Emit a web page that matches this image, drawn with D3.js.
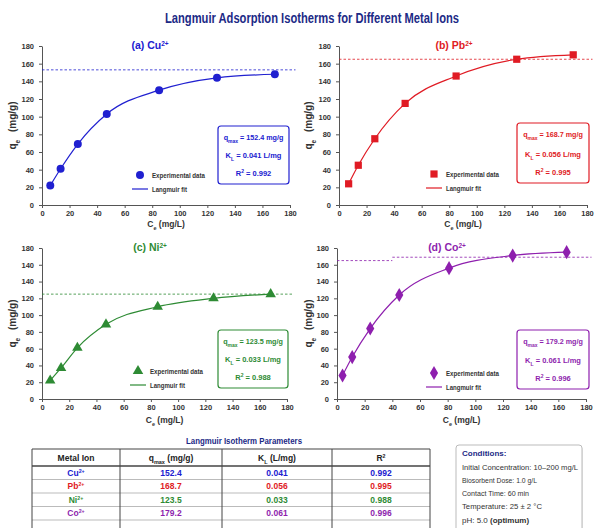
<!DOCTYPE html>
<html>
<head>
<meta charset="utf-8">
<script src="https://cdn.jsdelivr.net/npm/d3@7"></script>
<style>
  body { margin: 0; background: #fff; }
  svg text { font-family: "Liberation Sans Narrow", "Arial Narrow", "Liberation Sans", Arial, sans-serif; }
</style>
</head>
<body>
<svg id="chart" width="594" height="528"></svg>
<script>
// ---- data ----
const metals = ["Cu", "Pb", "Ni", "Co"];
const panelLetters = ["(a)", "(b)", "(c)", "(d)"];

const ceCu = [6, 13.5, 26, 47, 85, 127, 169];
const qeCu = [22, 41, 69, 103, 130, 144, 148];
const cePb = [7, 14, 26, 48, 85, 129, 170];
const qePb = [24, 45, 75, 115, 146, 165, 170];
const ceNi = [6, 14, 26, 47, 85, 126, 168];
const qeNi = [22, 37, 61, 89, 110, 120, 125];
const ceCo = [4, 11, 24, 45, 81, 127, 166];
const qeCo = [28, 50, 84, 124, 156, 171, 175];

const qmaxValues = ["152.4", "168.7", "123.5", "179.2"];
const klValues = ["0.041", "0.056", "0.033", "0.061"];
const r2Values = ["0.992", "0.995", "0.988", "0.996"];

// dashed reference lines: [fromCe, toCe, qe]
const dashCu = [[0, 184, 153]];
const dashPb = [[0, 184, 165]];
const dashNi = [[0, 184, 125]];
const dashCo = [[0, 40, 165], [40, 184, 169]];

const xTicks = [0, 20, 40, 60, 80, 100, 120, 140, 160, 180];
const yTicks = [0, 20, 40, 60, 80, 100, 120, 140, 160, 180];
const yTickLabelsNi = ["0", "20", "40", "60", "80", "100", "120", "140", "140", "180"];

const conditions = [
  "Initial Concentration: 10\u2013200 mg/L",
  "Biosorbent Dose: 1.0 g/L",
  "Contact Time: 60 min",
  "Temperature: 25 \u00b1 2 \u00b0C"
];

// ---- styling / layout ----
const colors = ["#2020d0", "#e01b24", "#2e8b34", "#8e1fae"];
const symbols = [d3.symbolCircle, d3.symbolSquare, d3.symbolTriangle, d3.symbolDiamond];
const symbolSizes = [50, 52, 48, 58];
const ceAll = [ceCu, cePb, ceNi, ceCo];
const qeAll = [qeCu, qePb, qeNi, qeCo];
const dashAll = [dashCu, dashPb, dashNi, dashCo];

const layout = [
  { l: 42, r: 290, t: 46, b: 205, title: [150, 49], box: [218, 126, 71, 58], leg: [140, 175], yl: 16, xl: 227 },
  { l: 339, r: 587, t: 46, b: 205, title: [454, 49], box: [517, 123, 72, 60], leg: [434, 174], yl: 312, xl: 227 },
  { l: 42, r: 287, t: 248, b: 399, title: [150, 251], box: [218, 330, 70, 58], leg: [138, 371], yl: 16, xl: 423 },
  { l: 337, r: 586, t: 248, b: 399, title: [447, 251], box: [517, 330, 72, 59], leg: [434, 373], yl: 312, xl: 423 }
];

const svg = d3.select("#chart");

// squeeze a plain text to the width seen in the reference
function squeeze(sel, w) {
  return sel.attr("textLength", w).attr("lengthAdjust", "spacingAndGlyphs");
}

squeeze(svg.append("text")
  .attr("x", 312).attr("y", 23)
  .attr("text-anchor", "middle")
  .attr("font-size", 14).attr("font-weight", "bold")
  .attr("fill", "#1c2a86")
  .text("Langmuir Adsorption Isotherms for Different Metal Ions"), 294);

function supText(sel, base, sup, size) {
  sel.append("tspan").text(base);
  sel.append("tspan").attr("baseline-shift", "super").attr("font-size", size * 0.62).text(sup);
}

metals.forEach((m, i) => {
  const L = layout[i];
  const color = colors[i];
  const x = d3.scaleLinear().domain([0, 180]).range([L.l, L.r]);
  const y = d3.scaleLinear().domain([0, 180]).range([L.b, L.t]);
  const g = svg.append("g");

  // axes
  const yAxis = d3.axisLeft(y).tickValues(yTicks).tickSize(3).tickSizeOuter(0).tickPadding(5);
  if (m === "Ni") yAxis.tickFormat((d, k) => yTickLabelsNi[k]);
  const xAxis = d3.axisBottom(x).tickValues(xTicks).tickSize(3).tickSizeOuter(0).tickPadding(3);

  const ya = g.append("g").attr("transform", `translate(${L.l},0)`).call(yAxis);
  const xa = g.append("g").attr("transform", `translate(0,${L.b})`).call(xAxis);
  [ya, xa].forEach(a => {
    a.select(".domain").attr("stroke", "#555").attr("stroke-width", 1);
    a.selectAll(".tick line").attr("stroke", "#555");
    a.selectAll(".tick text").attr("font-size", 7.5).attr("font-weight", "bold").attr("fill", "#333")
      .style("font-family", '"Liberation Sans Narrow", "Arial Narrow", "Liberation Sans", Arial, sans-serif');
  });

  // axis titles
  const yt = g.append("text")
    .attr("transform", `translate(${L.yl},${(L.t + L.b) / 2}) rotate(-90)`)
    .attr("text-anchor", "middle").attr("font-size", 10).attr("font-weight", "bold").attr("fill", "#333");
  yt.append("tspan").text("q");
  yt.append("tspan").attr("baseline-shift", "sub").attr("font-size", 6.5).text("e");
  yt.append("tspan").attr("dx", 5).attr("baseline-shift", "0").text(" (mg/g)");

  const xt = g.append("text")
    .attr("x", (L.l + L.r) / 2).attr("y", L.xl)
    .attr("text-anchor", "middle").attr("font-size", 8.5).attr("font-weight", "bold").attr("fill", "#333");
  xt.append("tspan").text("C");
  xt.append("tspan").attr("baseline-shift", "sub").attr("font-size", 5.5).text("e");
  xt.append("tspan").attr("baseline-shift", "0").text(" (mg/L)");

  // panel title
  const pt = g.append("text")
    .attr("x", L.title[0]).attr("y", L.title[1])
    .attr("text-anchor", "middle").attr("font-size", 10.5).attr("font-weight", "bold").attr("fill", color);
  supText(pt, `${panelLetters[i]} ${m}`, "2+", 10.5);

  // dashed reference line
  dashAll[i].forEach(s => {
    g.append("line")
      .attr("x1", x(s[0])).attr("x2", x(s[1]))
      .attr("y1", y(s[2])).attr("y2", y(s[2]))
      .attr("stroke", color).attr("stroke-width", 1)
      .attr("stroke-dasharray", "2.5,2").attr("opacity", 0.8);
  });

  // fit curve
  const pts = ceAll[i].map((c, k) => [c, qeAll[i][k]]);
  g.append("path")
    .datum(pts)
    .attr("fill", "none").attr("stroke", color).attr("stroke-width", 1.2)
    .attr("d", d3.line().x(d => x(d[0])).y(d => y(d[1])).curve(d3.curveMonotoneX));

  // experimental points
  g.selectAll(".pt").data(pts).enter().append("path")
    .attr("transform", d => `translate(${x(d[0])},${y(d[1])})`)
    .attr("d", d3.symbol().type(symbols[i]).size(symbolSizes[i]))
    .attr("fill", color);

  // legend
  const lg = g.append("g").attr("transform", `translate(${L.leg[0]},${L.leg[1]})`);
  lg.append("path").attr("d", d3.symbol().type(symbols[i]).size(symbolSizes[i])).attr("fill", color);
  squeeze(lg.append("text").attr("x", 12).attr("y", 3).attr("font-size", 8).attr("font-weight", "bold")
    .attr("fill", "#333").text("Experimental data"), 53);
  lg.append("line").attr("x1", -8).attr("x2", 8).attr("y1", 14).attr("y2", 14)
    .attr("stroke", color).attr("stroke-width", 1.2);
  squeeze(lg.append("text").attr("x", 12).attr("y", 17).attr("font-size", 8).attr("font-weight", "bold")
    .attr("fill", "#333").text("Langmuir fit"), 35);

  // parameter box
  const [bx, by, bw, bh] = L.box;
  g.append("rect").attr("x", bx).attr("y", by).attr("width", bw).attr("height", bh)
    .attr("rx", 3).attr("fill", "#fff").attr("stroke", color).attr("stroke-width", 1.2);
  const cx = bx + bw / 2;
  const t1 = g.append("text").attr("x", cx).attr("y", by + bh * 0.24).attr("text-anchor", "middle")
    .attr("font-size", 7.2).attr("font-weight", "bold").attr("fill", color);
  t1.append("tspan").text("q");
  t1.append("tspan").attr("baseline-shift", "sub").attr("font-size", 5).text("max");
  t1.append("tspan").attr("baseline-shift", "0").text(` = ${qmaxValues[i]} mg/g`);
  const t2 = g.append("text").attr("x", cx).attr("y", by + bh * 0.56).attr("text-anchor", "middle")
    .attr("font-size", 7.5).attr("font-weight", "bold").attr("fill", color);
  t2.append("tspan").text("K");
  t2.append("tspan").attr("baseline-shift", "sub").attr("font-size", 5).text("L");
  t2.append("tspan").attr("baseline-shift", "0").text(` = ${klValues[i]} L/mg`);
  const t3 = g.append("text").attr("x", cx).attr("y", by + bh * 0.86).attr("text-anchor", "middle")
    .attr("font-size", 7.5).attr("font-weight", "bold").attr("fill", color);
  t3.append("tspan").text("R");
  t3.append("tspan").attr("baseline-shift", "super").attr("font-size", 5).text("2");
  t3.append("tspan").attr("baseline-shift", "0").text(` = ${r2Values[i]}`);
});

// ---- parameter table ----
squeeze(svg.append("text")
  .attr("x", 244).attr("y", 444)
  .attr("text-anchor", "middle").attr("font-size", 9).attr("font-weight", "bold").attr("fill", "#1c2a86")
  .text("Langmuir Isotherm Parameters"), 116);

const colEdges = [32, 120, 222, 332, 430];
const rowEdges = [449, 466, 479.5, 493, 506.5, 520];
const tg = svg.append("g");

rowEdges.slice(2, 5).forEach(yv => {
  tg.append("line").attr("x1", colEdges[0]).attr("x2", colEdges[4]).attr("y1", yv).attr("y2", yv)
    .attr("stroke", "#bbb").attr("stroke-width", 1);
});
tg.append("line").attr("x1", colEdges[0]).attr("x2", colEdges[4]).attr("y1", rowEdges[1]).attr("y2", rowEdges[1])
  .attr("stroke", "#444").attr("stroke-width", 1.5);
tg.append("line").attr("x1", colEdges[0]).attr("x2", colEdges[4]).attr("y1", rowEdges[0]).attr("y2", rowEdges[0])
  .attr("stroke", "#444").attr("stroke-width", 1.2);
tg.append("line").attr("x1", colEdges[0]).attr("x2", colEdges[4]).attr("y1", rowEdges[5]).attr("y2", rowEdges[5])
  .attr("stroke", "#bbb").attr("stroke-width", 1);
colEdges.forEach(xv => {
  tg.append("line").attr("x1", xv).attr("x2", xv).attr("y1", rowEdges[0]).attr("y2", 528)
    .attr("stroke", "#444").attr("stroke-width", 1);
});

const colMid = k => (colEdges[k] + colEdges[k + 1]) / 2;
const headY = (rowEdges[0] + rowEdges[1]) / 2 + 3;
const hdr = k => tg.append("text").attr("x", colMid(k)).attr("y", headY).attr("text-anchor", "middle")
  .attr("font-size", 8.5).attr("font-weight", "bold").attr("fill", "#222");
hdr(0).text("Metal Ion");
const h1 = hdr(1); h1.append("tspan").text("q");
h1.append("tspan").attr("baseline-shift", "sub").attr("font-size", 5.5).text("max");
h1.append("tspan").attr("baseline-shift", "0").text(" (mg/g)");
const h2 = hdr(2); h2.append("tspan").text("K");
h2.append("tspan").attr("baseline-shift", "sub").attr("font-size", 5.5).text("L");
h2.append("tspan").attr("baseline-shift", "0").text(" (L/mg)");
const h3 = hdr(3); supText(h3, "R", "2", 8.5);

metals.forEach((m, i) => {
  const yv = (rowEdges[i + 1] + rowEdges[i + 2]) / 2 + 3;
  const cell = k => tg.append("text").attr("x", colMid(k)).attr("y", yv).attr("text-anchor", "middle")
    .attr("font-size", 8.5).attr("font-weight", "bold").attr("fill", colors[i]);
  supText(cell(0), m, "2+", 8.5);
  cell(1).text(qmaxValues[i]);
  cell(2).text(klValues[i]);
  cell(3).text(r2Values[i]);
});

// ---- conditions box ----
const cg = svg.append("g");
cg.append("rect").attr("x", 457).attr("y", 447).attr("width", 126).attr("height", 90)
  .attr("rx", 3).attr("fill", "#000").attr("opacity", 0.08);
cg.append("rect").attr("x", 456).attr("y", 445).attr("width", 126).attr("height", 90)
  .attr("rx", 3).attr("fill", "#fff").attr("stroke", "#bbb").attr("stroke-width", 1);
cg.append("text").attr("x", 462).attr("y", 456).attr("font-size", 8).attr("font-weight", "bold")
  .attr("fill", "#1c2a86").text("Conditions:");
const condWidths = [116, 75, 67, 80];
conditions.forEach((c, k) => {
  squeeze(cg.append("text").attr("x", 462).attr("y", 469.5 + k * 13.3).attr("font-size", 8)
    .attr("fill", "#333").text(c), condWidths[k]);
});
const ph = cg.append("text").attr("x", 462).attr("y", 469.5 + 4 * 13.3).attr("font-size", 8).attr("fill", "#333");
ph.append("tspan").text("pH: 5.0 ");
ph.append("tspan").attr("font-weight", "bold").text("(optimum)");
</script>
</body>
</html>
